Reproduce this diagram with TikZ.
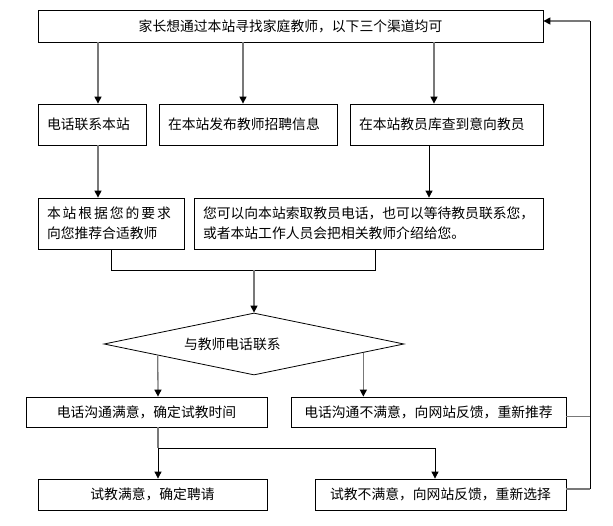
\documentclass[tikz,border=0pt]{standalone}
\usepackage{fontspec}
\setmainfont{Noto Sans CJK SC}
\usetikzlibrary{arrows.meta,shapes.geometric,calc}
\definecolor{lgray}{RGB}{120,120,120}
\begin{document}
\begin{tikzpicture}[x=1pt,y=-1pt,
  box/.style={draw=black, line width=0.8pt, inner ysep=0pt, font=\fontsize{13.8}{20}\selectfont},
  lbox/.style={box, align=left, inner xsep=9pt},
  cbox/.style={box, align=center, inner xsep=0pt},
  gline/.style={draw=lgray, line width=1.3pt},
  bline/.style={draw=black, line width=0.8pt},
  arr/.style={-{Triangle[length=7pt,width=7pt,color=black]}}]
\useasboundingbox[fill=white] (0,0) rectangle (613,525);

% boxes
\node[cbox, minimum width=505pt, minimum height=32pt] (top) at (290.5,26) {家长想通过本站寻找家庭教师，以下三个渠道均可};
\node[lbox, text width=90pt, minimum height=41pt] (A) at (92,124.5) {电话联系本站};
\node[lbox, text width=160pt, minimum height=41pt] (B) at (248,124.5) {在本站发布教师招聘信息};
\node[lbox, text width=175pt, minimum height=41pt] (C) at (446.5,124.5) {在本站教员库查到意向教员};
\node[lbox, text width=128pt, minimum height=51pt] (D) at (111,223.5) {\makebox[124pt][s]{本\hfil 站\hfil 根\hfil 据\hfil 您\hfil 的\hfil 要\hfil 求}\\向您推荐合适教师};
\node[lbox, text width=331pt, minimum height=51pt] (E) at (368.5,223.5) {您可以向本站索取教员电话，也可以等待教员联系您，\\或者本站工作人员会把相关教师介绍给您。};
\node[draw=black, line width=0.8pt, shape=diamond, aspect=4.84, minimum width=300pt, minimum height=62pt, inner sep=0pt, text width=140pt, align=left, font=\fontsize{13.8}{20}\selectfont] (dia) at (254,344) {与教师电话联系};
\node[cbox, minimum width=241pt, minimum height=30pt] (F) at (146.5,412) {电话沟通满意，确定试教时间};
\node[cbox, minimum width=275pt, minimum height=30pt] (G) at (428.5,412) {电话沟通不满意，向网站反馈，重新推荐};
\node[cbox, minimum width=229pt, minimum height=31pt] (H) at (152.5,494.5) {试教满意，确定聘请};
\node[cbox, minimum width=251pt, minimum height=31pt] (I) at (440.5,494.5) {试教不满意，向网站反馈，重新选择};

% helper coordinates
\coordinate (x1) at (98,0);
\coordinate (x2) at (243,0);
\coordinate (x3) at (434,0);
\coordinate (x4) at (429,0);
\coordinate (xd) at (111,0);
\coordinate (xe) at (375,0);
\coordinate (jy) at (0,270);
\coordinate (xs) at (158,0);
\coordinate (xt) at (435,0);
\coordinate (sy) at (0,448);
\coordinate (fb) at (590,21);

% top arrows
\draw[gline,arr] (top.south -| x1) -- (A.north -| x1);
\draw[gline,arr] (top.south -| x2) -- (B.north -| x2);
\draw[gline,arr] (top.south -| x3) -- (C.north -| x3);
% row 2 to row 3
\draw[gline,arr] (A.south -| x1) -- (D.north -| x1);
\draw[bline,arr] (C.south -| x4) -- (E.north -| x4);
% join
\draw[bline] (D.south -| xd) -- (jy -| xd) -- (jy -| xe) -- (E.south -| xe);
\draw[gline,arr] (jy -| dia.north) -- (dia.north);
% diamond outputs
\draw[gline,arr] ($(dia.west)!0.36!(dia.south)$) -- (F.north -| xs);
\draw[gline,arr] ($(dia.east)!0.273!(dia.south)$) coordinate (dr) -- (G.north -| dr);
% split
\draw[gline] (F.south -| xs) -- (sy -| xs);
\draw[bline] (sy -| xs) -- (sy -| xt);
\draw[bline,arr] (sy -| xs) -- (H.north -| xs);
\draw[bline,arr] (sy -| xt) -- (I.north -| xt);
% feedback
\draw[gline] ([yshift=-4.5pt]G.east) -- ([yshift=-4.5pt]G.east -| fb);
\draw[gline] ([yshift=5.5pt]I.east) -- ([yshift=5.5pt]I.east -| fb);
\draw[bline] ([yshift=5.5pt]I.east -| fb) -- (fb);
\draw[gline,arr] (fb) -- (top.east |- fb);
\end{tikzpicture}
\end{document}
